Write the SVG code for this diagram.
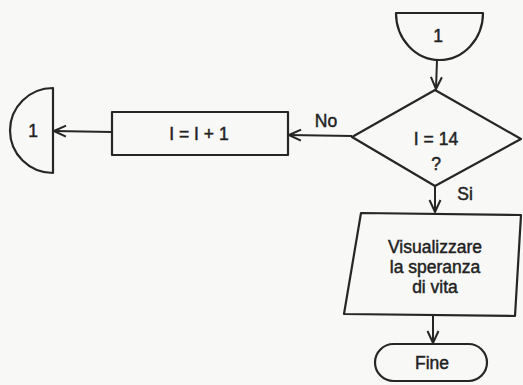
<svg xmlns="http://www.w3.org/2000/svg" width="523" height="385" viewBox="0 0 523 385">
<defs>
<style>
.s{fill:none;stroke:#262626;stroke-width:2.2;stroke-linejoin:round}
.c{fill:none;stroke:#262626;stroke-width:2}
.t{font-family:"Liberation Sans",Arial,sans-serif;font-size:17.5px;fill:#222;stroke:#222;stroke-width:0.45;text-anchor:middle;dominant-baseline:central}
</style>
<marker id="a" viewBox="0 0 14 14" refX="13" refY="7" markerWidth="14" markerHeight="14" markerUnits="userSpaceOnUse" orient="auto">
<path d="M1,1.5 L13,7 L1,12.5" fill="none" stroke="#262626" stroke-width="2"/>
</marker>
</defs>
<rect width="523" height="385" fill="#f8f8f6"/>
<g id="conn-top">
<path class="s" d="M396,13 L483,13 A43.5,47 0 0 1 396,13 Z"/>
<text class="t" x="438" y="36">1</text>
</g>
<g id="decision">
<path class="s" d="M435,90 L521,139 L435,186 L352,137 Z"/>
<text class="t" x="436" y="139">I = 14</text>
<text class="t" x="436" y="164">?</text>
</g>
<g id="increment">
<rect class="s" x="112" y="112" width="176" height="43"/>
<text class="t" x="199" y="134">I = I + 1</text>
</g>
<g id="conn-left">
<path class="s" d="M53,88 L53,173 A43,42.5 0 0 1 53,88 Z"/>
<text class="t" x="33" y="131">1</text>
</g>
<g id="output">
<path class="s" d="M361,213 L521,215 L515,316 L344,314 Z"/>
<text class="t" x="435" y="247">Visualizzare</text>
<text class="t" x="435" y="267">la speranza</text>
<text class="t" x="435" y="287">di vita</text>
</g>
<g id="end">
<rect class="s" x="375" y="344" width="112" height="37" rx="18.5"/>
<text class="t" x="432" y="363">Fine</text>
</g>
<g id="connectors">
<line class="c" x1="437" y1="60" x2="436" y2="89" marker-end="url(#a)"/>
<line class="c" x1="352" y1="136" x2="289" y2="135" marker-end="url(#a)"/>
<line class="c" x1="112" y1="132" x2="54" y2="131" marker-end="url(#a)"/>
<line class="c" x1="435" y1="186" x2="435" y2="212" marker-end="url(#a)"/>
<line class="c" x1="433" y1="316" x2="433" y2="343" marker-end="url(#a)"/>
<text class="t" x="326" y="121">No</text>
<text class="t" x="465" y="194">Si</text>
</g>
</svg>
